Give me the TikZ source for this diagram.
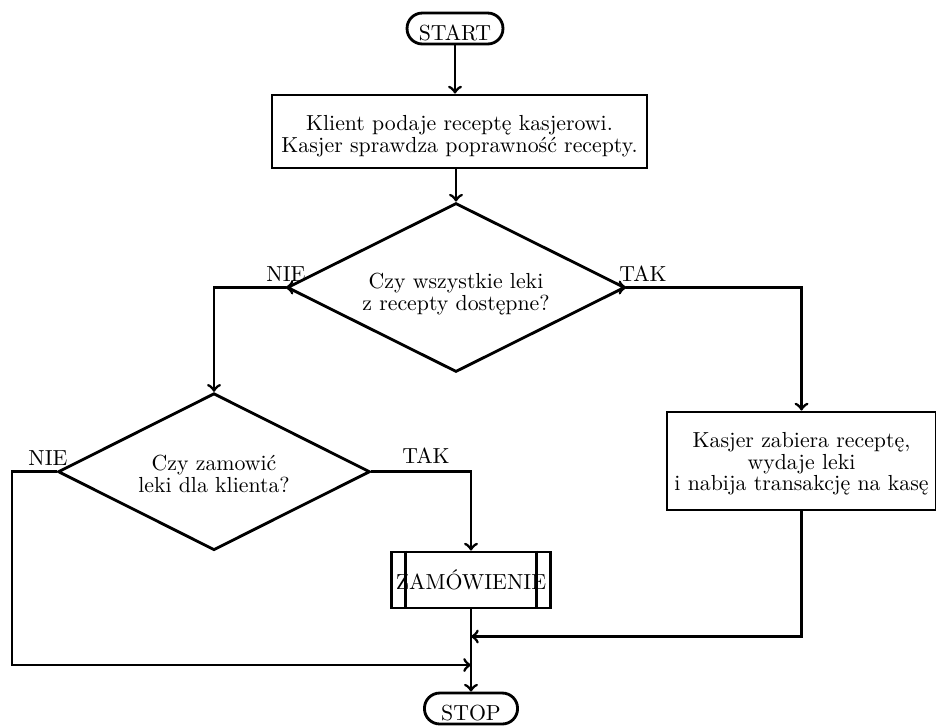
\documentclass[tikz,border=0pt]{standalone}
\usetikzlibrary{shapes.geometric,calc}
\newcommand\dn[2]{\raisebox{-#1}[\height][\depth]{\def\arraystretch{0.83}\begin{tabular}{@{}c@{}}#2\end{tabular}}}
\begin{document}
\begin{tikzpicture}[x=0.4587pt,y=-0.4587pt, line width=1.3pt, >=to,
  term/.style={draw, rectangle, rounded corners=7pt, minimum height=14.2pt, inner ysep=1.6pt, text height=11pt, text depth=0pt},
  proc/.style={draw, rectangle, inner xsep=2pt},
  dec/.style={draw, diamond, aspect=2, inner sep=0pt},
  sub/.style={draw, rectangle, inner sep=0pt},
  lab/.style={inner sep=0pt, anchor=base}]
\useasboundingbox (0,0) rectangle (936,726);
\node[term, minimum width=44pt] (start) at (455,28.5) {START};
\node[proc, minimum width=172pt, minimum height=33.5pt] (box1) at (459.5,131.5) {\dn{2.5pt}{Klient podaje receptę kasjerowi.\\Kasjer sprawdza poprawność recepty.}};
\node[dec, minimum width=155pt, minimum height=77.5pt] (d1) at (456,287.5) {\dn{3.5pt}{Czy wszystkie leki\\z recepty dostępne?}};
\node[dec, minimum width=143.1pt, minimum height=72pt] (d2) at (214,471.7) {\dn{2.3pt}{Czy zamowić\\leki dla klienta?}};
\node[proc, minimum width=123.4pt, minimum height=45pt] (box2) at (801.5,461) {\dn{1.8pt}{Kasjer zabiera receptę,\\wydaje leki\\i nabija transakcję na kasę}};
\node[sub, minimum width=72.9pt, minimum height=25.7pt] (zam) at (471,580) {\dn{1.5pt}{ZAMÓWIENIE}};
\draw ([xshift=7.1pt]zam.north west) -- ([xshift=7.1pt]zam.south west);
\draw ([xshift=-7.1pt]zam.north east) -- ([xshift=-7.1pt]zam.south east);
\node[term, minimum width=42.7pt] (stop) at (471,708.5) {STOP};
\node[lab] (nie1) at (286,281) {NIE};
\node[lab] (tak1) at (643,281.7) {TAK};
\node[lab] (nie2) at (48,465) {NIE};
\node[lab] (tak2) at (426,463) {TAK};
\coordinate (m1) at (471,636.5);
\coordinate (m2) at (471,665);
\coordinate (c2) at (12,665);
\draw[->] (start.south) -- (start.south |- box1.north);
\draw[->] (d1.north |- box1.south) -- (d1.north);
\draw[->] ([xshift=1pt]d1.west) -- (d1.west);
\draw[->] ([xshift=-1pt]d1.east) -- (d1.east);
\draw[->] (d1.west) -| (d2.north);
\draw[->] (d1.east) -| (box2.north);
\draw[->] (d2.east) -| (zam.north);
\draw[->] (zam.south) -- (stop.north);
\draw[->] (box2.south) |- (m1);
\draw[->] (d2.west) -| (c2) -- (m2);
\end{tikzpicture}
\end{document}
